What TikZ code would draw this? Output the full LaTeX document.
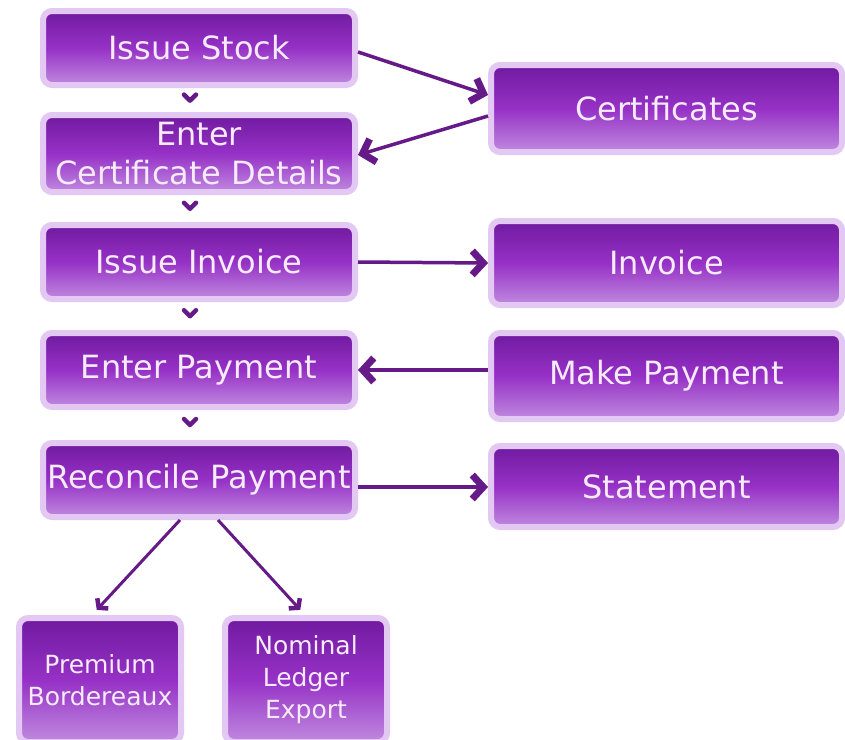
\documentclass[tikz,border=0pt]{standalone}
\usepackage{fontspec}
\setmainfont{DejaVu Sans}
\usetikzlibrary{arrows.meta,calc}
\definecolor{glow}{HTML}{E2C8F2}
\definecolor{topc}{HTML}{701AA0}
\definecolor{midc}{HTML}{9631C6}
\definecolor{botc}{HTML}{C08ADF}
\definecolor{linec}{HTML}{661A88}
\definecolor{txt}{HTML}{F6EAFB}
\tikzset{
  box/.style={draw=glow, line width=6pt, rounded corners=9pt,
    top color=topc, bottom color=botc, middle color=midc,
    text=txt, inner sep=0pt, align=center,
    font=\fontsize{32}{39}\selectfont},
  smallbox/.style={box, font=\fontsize{25}{32}\selectfont},
  conn/.style={draw=linec, line width=3.5pt,
    -{Straight Barb[length=11pt,width=24pt,line width=7pt]}},
  thinconn/.style={draw=linec, line width=3pt,
    -{Straight Barb[length=6pt,width=15pt,line width=4.5pt]}},
  chev/.style={draw=linec, line width=4.5pt, line cap=round, line join=round},
}
\begin{document}
\begin{tikzpicture}[x=1pt,y=-1pt]
\useasboundingbox[fill=white] (0,0) rectangle (845,739);
% left column
\node[box, minimum width=312pt, minimum height=74pt] (is) at (199,48) {Issue Stock};
\node[box, minimum width=312pt, minimum height=77pt] (ecd) at (199,153.5) {Enter\\Certificate Details};
\node[box, minimum width=312pt, minimum height=74pt] (ii) at (199,262) {Issue Invoice};
\node[box, minimum width=312pt, minimum height=74pt] (ep) at (199,370) {Enter Payment};
\node[box, minimum width=312pt, minimum height=74pt] (rp) at (199,480) {Reconcile Payment};
% right column
\node[box, minimum width=351pt, minimum height=87pt] (cert) at (666.5,108.5) {Certificates};
\node[box, minimum width=351pt, minimum height=84pt] (inv) at (666.5,263) {Invoice};
\node[box, minimum width=351pt, minimum height=86pt] (mp) at (666.5,376) {Make Payment};
\node[box, minimum width=351pt, minimum height=81pt] (st) at (666.5,486.5) {Statement};
% bottom
\node[smallbox, minimum width=162pt, minimum height=124pt] (pb) at (100,680) {Premium\\Bordereaux};
\node[smallbox, minimum width=162pt, minimum height=124pt] (nle) at (306,680) {Nominal\\Ledger\\Export};
% small chevrons between left boxes
\foreach \a/\b [count=\i] in {is/ecd, ecd/ii, ii/ep, ep/rp}{
  \coordinate (m\i) at ($(\a.south)!0.4!(\b.north)+(-9,0)$);
  \draw[chev] ($(m\i)+(-6,-3)$) -- ($(m\i)+(0,3)$) -- ($(m\i)+(6,-3)$);
}
% connectors
\draw[conn] ([yshift=-4pt]is.east) -- ([yshift=13.5pt]cert.west);
\draw[conn] ([yshift=-7.5pt]cert.west) -- ([yshift=-1.5pt]ecd.east);
\draw[conn] (ii.east) -- (inv.west);
\draw[conn] ([yshift=6pt]mp.west) -- (ep.east);
\draw[conn] ([yshift=-7pt]rp.east) -- ([yshift=-0.5pt]st.west);
\draw[thinconn, shorten >=7pt] ([xshift=-19pt]rp.south) -- ([xshift=-8pt]pb.north);
\draw[thinconn, shorten >=7pt] ([xshift=19pt]rp.south) -- ([xshift=-1pt]nle.north);
\end{tikzpicture}
\end{document}
